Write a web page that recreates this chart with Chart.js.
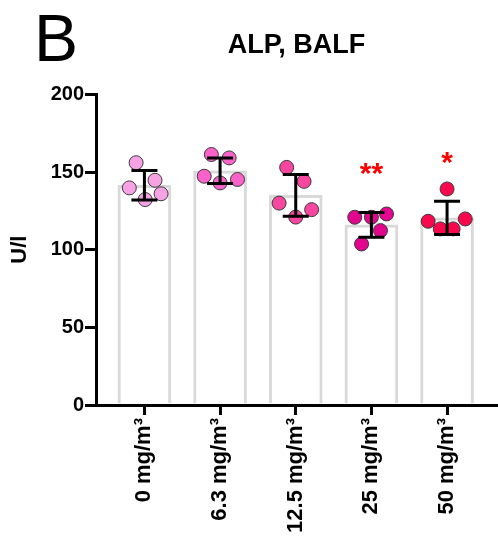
<!DOCTYPE html>
<html>
    <head>
        <meta charset="utf-8">
        <script src="https://cdn.jsdelivr.net/npm/chart.js@4.4.0/dist/chart.umd.min.js"></script>
        <style>
            html, body { margin: 0; background: #fff; overflow: hidden; }
            #wrap { width: 498px; height: 552px; position: relative; }
        </style>
    </head>
    <body>
        <div id="wrap"><canvas id="alpChart"></canvas></div>

        <script type="text/javascript">
        // groups and values
        var groups = ['0 mg/m³', '6.3 mg/m³', '12.5 mg/m³', '25 mg/m³', '50 mg/m³'];
        var means = [141.5, 150.8, 135, 116, 120.5];
        var sds = [9.5, 8.2, 13.5, 8, 10.7];
        var points = [
            [156, 139.8, 144.7, 136, 132.3],
            [161.3, 159.1, 147.3, 145.2, 143],
            [153, 144, 130, 125.8, 121],
            [120.9, 120.9, 123, 112.3, 103.7],
            [139.1, 118.3, 119.8, 113.4, 113.4]
        ];
        // horizontal spread of the dots, in category units
        var jitter = [
            [-0.11, -0.2, 0.14, 0.22, 0.01],
            [-0.115, 0.12, -0.21, 0.23, 0],
            [-0.12, 0.11, -0.22, 0.21, 0],
            [-0.22, 0, 0.2, 0.12, -0.13],
            [0, -0.25, 0.24, -0.09, 0.08]
        ];
        var stars = ['', '', '', '**', '*'];
        var yTicks = [0, 50, 100, 150, 200];
        var dotColors = ['#f8a2e6', '#f963c9', '#f6469f', '#e2068f', '#f8094e'];

        var FONT = "'Liberation Sans', Arial, Helvetica, sans-serif";

        var datasets = [];
        datasets.push({
            type: 'bar',
            data: means.map(function(m, i) { return {x: i, y: m}; }),
            backgroundColor: '#ffffff',
            borderColor: '#d9d9d9',
            borderWidth: 3,
            barThickness: 53,
            order: 2
        });
        points.forEach(function(vals, i) {
            datasets.push({
                type: 'scatter',
                data: vals.map(function(v, j) { return {x: i + jitter[i][j], y: v}; }),
                backgroundColor: dotColors[i],
                borderColor: '#3a3a3a',
                borderWidth: 1,
                pointRadius: 7,
                order: 1
            });
        });

        // mean +/- SD whiskers, significance stars and the panel letter
        var extras = {
            id: 'extras',
            afterDatasetsDraw: function(chart) {
                var ctx = chart.ctx;
                var xs = chart.scales.x, ys = chart.scales.y;
                ctx.save();
                ctx.strokeStyle = '#000';
                ctx.lineWidth = 3;
                for (var i = 0; i < means.length; i++) {
                    var cx = xs.getPixelForValue(i);
                    var top = ys.getPixelForValue(means[i] + sds[i]);
                    var bot = ys.getPixelForValue(means[i] - sds[i]);
                    ctx.beginPath();
                    ctx.moveTo(cx, top); ctx.lineTo(cx, bot);
                    ctx.moveTo(cx - 13, top); ctx.lineTo(cx + 13, top);
                    ctx.moveTo(cx - 13, bot); ctx.lineTo(cx + 13, bot);
                    ctx.stroke();

                    if (stars[i]) {
                        ctx.fillStyle = '#ff0000';
                        ctx.font = 'bold 30px ' + FONT;
                        ctx.textAlign = 'center';
                        ctx.textBaseline = 'alphabetic';
                        var sy = ys.getPixelForValue(means[i] + sds[i] + 27);
                        ctx.fillText(stars[i], cx, sy + 13);
                    }
                }
                ctx.fillStyle = '#000';
                ctx.font = '66px ' + FONT;
                ctx.textAlign = 'left';
                ctx.textBaseline = 'alphabetic';
                ctx.fillText('B', 34, 61);
                ctx.restore();
            }
        };

        new Chart(document.getElementById('alpChart'), {
            data: { datasets: datasets },
            plugins: [extras],
            options: {
                responsive: true,
                maintainAspectRatio: false,
                animation: false,
                // dots would otherwise pad the plot area
                layout: { autoPadding: false, padding: { right: 1 } },
                plugins: {
                    legend: { display: false },
                    tooltip: { enabled: false },
                    title: {
                        display: true,
                        text: 'ALP, BALF',
                        fullSize: false,
                        color: '#000',
                        font: { family: FONT, size: 27, weight: 'bold' },
                        padding: { top: 29, bottom: 33 }
                    }
                },
                scales: {
                    x: {
                        type: 'linear',
                        min: -0.64,
                        max: 4.66,
                        offset: false,
                        afterBuildTicks: function(s) {
                            s.ticks = groups.map(function(g, i) { return {value: i}; });
                        },
                        afterFit: function(s) {
                            s.height = 147;
                            s.paddingLeft = 0;
                            s.paddingRight = 0;
                        },
                        border: { color: '#000', width: 3 },
                        grid: { offset: false, drawOnChartArea: false, color: '#000', lineWidth: 3, tickLength: 10 },
                        ticks: {
                            color: '#000',
                            minRotation: 90,
                            maxRotation: 90,
                            autoSkip: false,
                            padding: 3,
                            font: { family: FONT, size: 22, weight: 'bold' },
                            callback: function(v) { return groups[v]; }
                        }
                    },
                    y: {
                        min: 0,
                        max: 200,
                        afterBuildTicks: function(s) {
                            s.ticks = yTicks.map(function(v) { return {value: v}; });
                        },
                        afterFit: function(s) { s.width = 96; },
                        border: { color: '#000', width: 3 },
                        grid: { drawOnChartArea: false, color: '#000', lineWidth: 3, tickLength: 11 },
                        ticks: {
                            color: '#000',
                            padding: 1,
                            font: { family: FONT, size: 20, weight: 'bold' }
                        },
                        title: {
                            display: true,
                            text: 'U/l',
                            color: '#000',
                            font: { family: FONT, size: 22, weight: 'bold' },
                            padding: { top: 7, bottom: 0 }
                        }
                    }
                }
            }
        });
        </script>
    </body>
</html>
